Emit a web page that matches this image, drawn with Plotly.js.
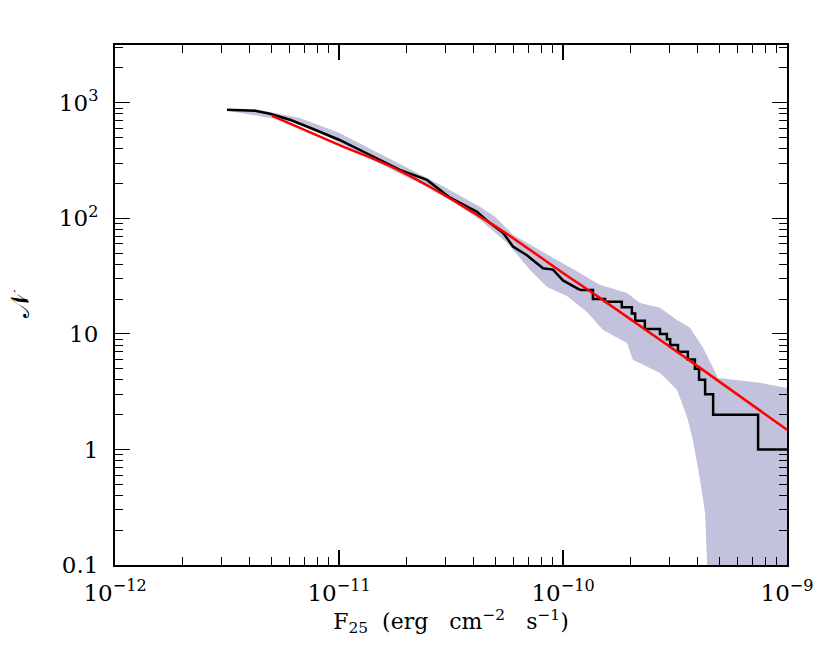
<!DOCTYPE html>
<html>
<head>
<meta charset="utf-8">
<script src="https://cdn.plot.ly/plotly-3.0.1.min.js"></script>
<style>body{margin:0;background:#fff;}</style>
</head>
<body>
<div id="plot" style="width:830px;height:648px;"></div>
<script>
// black curve, smooth bright part (flux, cumulative count)
var obsFlux = [3.16e-12, 4.22e-12, 4.92e-12, 6.04e-12, 7.42e-12, 1.0e-11, 1.37e-11, 1.87e-11,
  2.47e-11, 3.13e-11, 4.13e-11, 4.72e-11, 5.40e-11, 5.98e-11, 6.90e-11, 8.14e-11, 9.02e-11, 1.0e-10, 1.19e-10];
var obsN = [869, 851, 803, 713, 608, 479, 355, 263, 215, 151, 114, 91, 75, 57, 48, 37, 36, 29, 24];
// black curve, stepped tail
var stepFlux = [1.19e-10, 1.36e-10, 1.54e-10, 1.83e-10, 2.03e-10, 2.10e-10, 2.32e-10, 2.71e-10, 2.91e-10,
  3.01e-10, 3.26e-10, 3.61e-10, 3.88e-10, 4.05e-10, 4.31e-10, 4.68e-10, 7.43e-10, 1.0e-9];
var stepN = [24, 20, 19, 17, 15, 13, 11, 10, 9, 8, 7, 6, 5, 4, 3, 2, 1, 1];
// red model curve
var modelFlux = [5.03e-12, 1.0e-11, 1.87e-11, 4.72e-11, 1.0e-10, 1.46e-10, 4.09e-10, 1.0e-9];
var modelN = [771, 433, 258, 91.4, 33.7, 20.5, 5.08, 1.48];
// shaded band
var bandHiFlux = [3.16e-12, 4.22e-12, 6.70e-12, 1.0e-11, 1.87e-11, 2.83e-11, 4.26e-11, 4.97e-11, 5.98e-11,
  8.49e-11, 9.70e-11, 1.19e-10, 1.46e-10, 1.93e-10, 2.21e-10, 2.71e-10, 3.23e-10, 3.69e-10, 4.22e-10,
  4.92e-10, 5.74e-10, 7.57e-10, 1.0e-9];
var bandHi = [880, 880, 740, 550, 295, 195, 126, 103, 72, 48.3, 42, 33.7, 26.6, 22.6, 18.5, 16.8, 13.2,
  11.3, 7.57, 4.16, 4.0, 3.77, 3.40];
var bandLoFlux = [3.16e-12, 6.70e-12, 1.87e-11, 2.83e-11, 4.26e-11, 5.62e-11, 7.13e-11, 8.49e-11, 1.04e-10,
  1.28e-10, 1.51e-10, 1.93e-10, 2.05e-10, 2.71e-10, 3.23e-10, 3.58e-10, 3.80e-10, 4.09e-10, 4.31e-10,
  4.40e-10, 4.45e-10, 1.0e-9];
var bandLo = [853, 671, 243, 166, 97, 61.4, 35.8, 25.5, 21.3, 15.5, 10.8, 8.36, 5.96, 4.59, 3.27, 1.91,
  1.21, 0.545, 0.282, 0.1, 0.01, 0.01];

var xTickVals = [1e-12, 1e-11, 1e-10, 1e-9];
var xTickText = ['10<sup>\u221212</sup>', '10<sup>\u221211</sup>', '10<sup>\u221210</sup>', '10<sup>\u22129</sup>'];
var yTickVals = [0.1, 1, 10, 100, 1000];
var yTickText = ['0.1', '1', '10', '10<sup>2</sup>', '10<sup>3</sup>'];

function minorVals(lo, hi) {
  var v = [];
  for (var e = lo; e < hi; e++) {
    for (var m = 2; m <= 9; m++) v.push(m * Math.pow(10, e));
  }
  return v;
}

var bandX = bandHiFlux.concat(bandLoFlux.slice().reverse());
var bandY = bandHi.concat(bandLo.slice().reverse());

var traces = [
  {x: bandX, y: bandY, mode: 'lines', fill: 'toself', fillcolor: '#c2c2dc',
   line: {width: 0, color: '#c2c2dc'}, hoverinfo: 'skip'},
  {x: obsFlux, y: obsN, mode: 'lines', line: {color: 'black', width: 2.5}},
  {x: stepFlux, y: stepN, mode: 'lines', line: {color: 'black', width: 2.5, shape: 'hv'}},
  {x: modelFlux, y: modelN, mode: 'lines', line: {color: '#ff0000', width: 2.5, shape: 'spline'}}
];

var tickFont = {family: 'DejaVu Serif, serif', size: 23, color: 'black'};
var titleFont = {family: 'DejaVu Serif, serif', size: 22, color: 'black'};

var layout = {
  width: 830, height: 648,
  margin: {l: 115, r: 43, t: 45, b: 83},
  showlegend: false,
  paper_bgcolor: 'white', plot_bgcolor: 'white',
  font: tickFont,
  xaxis: {
    type: 'log', range: [-12, -9],
    tickmode: 'array', tickvals: xTickVals, ticktext: xTickText,
    ticks: 'inside', ticklen: 15, tickwidth: 1.2, tickcolor: 'black',
    ticklabelstandoff: 6,
    minor: {tickmode: 'array', tickvals: minorVals(-12, -9), ticks: 'inside', ticklen: 8, tickwidth: 1, tickcolor: 'black'},
    showline: true, linecolor: 'black', linewidth: 2, mirror: 'allticks',
    showgrid: false, zeroline: false,
    tickfont: tickFont,
    title: {text: 'F<sub>25</sub>&nbsp; (erg&nbsp;&nbsp; cm<sup>\u22122</sup>&nbsp;&nbsp; s<sup>\u22121</sup>)', font: titleFont, standoff: 4}
  },
  yaxis: {
    type: 'log', range: [-1, 3.5],
    tickmode: 'array', tickvals: yTickVals, ticktext: yTickText,
    ticks: 'inside', ticklen: 15, tickwidth: 1.2, tickcolor: 'black',
    ticklabelstandoff: 10,
    minor: {tickmode: 'array', tickvals: minorVals(-1, 4).filter(function (v) { return v < 3200; }), ticks: 'inside', ticklen: 8, tickwidth: 1, tickcolor: 'black'},
    showline: true, linecolor: 'black', linewidth: 2, mirror: 'allticks',
    showgrid: false, zeroline: false,
    tickfont: tickFont,
    title: {text: '\ud835\udca9', font: {family: 'DejaVu Serif, serif', size: 26, color: 'black'}, standoff: 22}
  }
};

Plotly.newPlot('plot', traces, layout, {staticPlot: true});
</script>
</body>
</html>
